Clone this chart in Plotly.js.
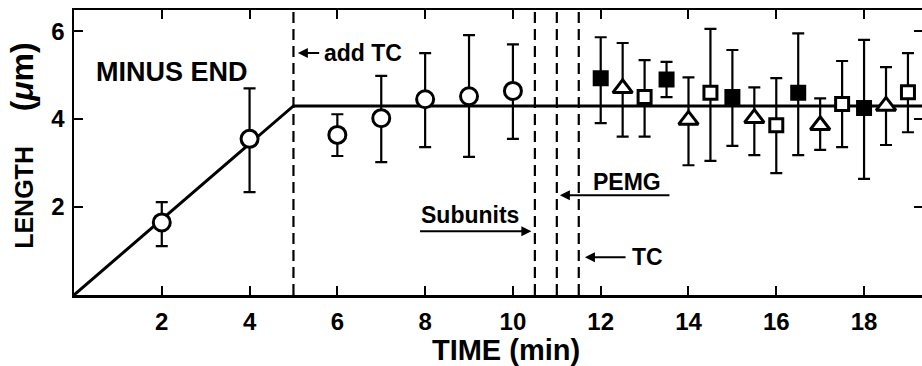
<!DOCTYPE html>
<html>
<head>
<meta charset="utf-8">
<script src="https://cdn.plot.ly/plotly-3.0.1.min.js"></script>
<style>
  html, body { margin: 0; padding: 0; background: #fff; }
  #chart { width: 922px; height: 366px; }
</style>
</head>
<body>
<div id="chart"></div>
<script>
// ---- data ----
const fitX = [0, 5, 19.32];
const fitY = [0, 4.3, 4.3];

const eventTimes = [5, 10.5, 11, 11.5];

const circleX  = [2, 4, 6, 7, 8, 9, 10];
const circleY  = [1.65, 3.55, 3.64, 4.02, 4.45, 4.52, 4.64];
const circleHi = [2.11, 4.70, 4.11, 4.98, 5.50, 5.91, 5.70];
const circleLo = [1.11, 2.34, 3.16, 3.02, 3.36, 3.14, 3.55];

const filledX  = [12, 13.5, 15, 16.5, 18];
const filledY  = [4.93, 4.90, 4.50, 4.60, 4.25];
const filledHi = [5.86, 5.30, 5.57, 5.95, 5.80];
const filledLo = [3.91, 4.50, 3.39, 3.18, 2.64];

const triX  = [12.5, 14, 15.5, 17, 18.5];
const triY  = [4.70, 3.98, 4.02, 3.86, 4.30];
const triHi = [5.73, 4.95, 4.72, 4.47, 5.18];
const triLo = [3.60, 2.95, 3.18, 3.30, 3.41];

const openSqX  = [13, 14.5, 16, 17.5, 19];
const openSqY  = [4.50, 4.60, 3.86, 4.34, 4.61];
const openSqHi = [5.34, 6.05, 4.93, 5.32, 5.50];
const openSqLo = [3.60, 3.05, 2.77, 3.36, 3.70];

const xTicks = [2, 4, 6, 8, 10, 12, 14, 16, 18];
const xTickText = ['2', '4', '6', '8', '10', '12', '14', '16', '18'];
const yTicks = [2, 4, 6];
const yTickText = ['2', '4', '6'];

// ---- helpers ----
function errBars(y, hi, lo) {
  return {
    type: 'data', symmetric: false,
    array: hi.map((h, i) => h - y[i]),
    arrayminus: lo.map((l, i) => y[i] - l),
    color: '#000', thickness: 2.2, width: 6
  };
}
function pointTrace(name, x, y, hi, lo, symbol, fill, size) {
  return {
    type: 'scatter', mode: 'markers', name: name, x: x, y: y,
    error_y: errBars(y, hi, lo),
    marker: { symbol: symbol, size: size, color: fill, line: { color: '#000', width: 3 } },
    cliponaxis: false
  };
}

const FONT = 'Liberation Sans, Arial, Helvetica, sans-serif';

const traces = [
  { type: 'scatter', mode: 'lines', x: fitX, y: fitY, name: 'fit',
    line: { color: '#000', width: 3 } },
  pointTrace('before', circleX, circleY, circleHi, circleLo, 'circle', '#fff', 17),
  pointTrace('filled', filledX, filledY, filledHi, filledLo, 'square', '#000', 13),
  pointTrace('triangle', triX, triY, triHi, triLo, 'triangle-up', '#fff', 17),
  pointTrace('open', openSqX, openSqY, openSqHi, openSqLo, 'square', '#fff', 13),
  // invisible trace to carry the right-hand tick axis
  { type: 'scatter', mode: 'markers', x: [fitX[0]], y: [fitY[0]], yaxis: 'y2',
    marker: { opacity: 0 }, hoverinfo: 'skip', name: 'right' }
];

const shapes = eventTimes.map(t => ({
  type: 'line', xref: 'x', yref: 'paper', x0: t, x1: t, y0: 0, y1: 1,
  line: { color: '#000', width: 2.2, dash: '11px,6px' }
}));

const txt = (text, x, y, size, xanchor) => ({
  text: text, x: x, y: y, xref: 'x', yref: 'y', showarrow: false,
  xanchor: xanchor || 'center', yanchor: 'middle',
  font: { family: FONT, size: size, color: '#000', weight: 'bold' }
});
const arrow = (x, y, ax, ay) => ({
  text: '', x: x, y: y, ax: ax, ay: ay, xref: 'x', yref: 'y', axref: 'x', ayref: 'y',
  showarrow: true, arrowhead: 2, arrowsize: 1, arrowwidth: 2, arrowcolor: '#000', standoff: 0
});

const annotations = [
  txt('MINUS END', 2.23, 5.06, 27),
  arrow(5.1, 5.5, 5.62, 5.5),
  txt('add TC', 5.66, 5.5, 23, 'left'),
  txt('Subunits', 9.02, 1.82, 23),
  arrow(10.42, 1.45, 7.85, 1.45),
  txt('PEMG', 12.6, 2.57, 23),
  arrow(11.07, 2.27, 13.6, 2.27),
  arrow(11.64, 0.86, 12.6, 0.86),
  txt('TC', 12.67, 0.86, 23, 'left')
];

const tickFont = { family: FONT, size: 24, color: '#000', weight: 'bold' };

const layout = {
  width: 922, height: 366,
  margin: { l: 74, r: 0, t: 10, b: 71 },
  paper_bgcolor: '#fff', plot_bgcolor: '#fff',
  showlegend: false,
  font: { family: FONT, color: '#000' },
  xaxis: {
    range: [0, 19.32], showgrid: false, zeroline: false,
    showline: true, linecolor: '#000', linewidth: 2.5, mirror: 'ticks',
    ticks: 'inside', ticklen: 9, tickwidth: 2, tickcolor: '#000',
    tickvals: xTicks, ticktext: xTickText, ticklabelstandoff: 4,
    tickfont: tickFont,
    title: { text: '&nbsp;&nbsp;TIME (min)', standoff: 8,
             font: { family: FONT, size: 29, color: '#000', weight: 'bold' } }
  },
  yaxis: {
    range: [0, 6.48], showgrid: false, zeroline: false,
    showline: true, linecolor: '#000', linewidth: 2.5, mirror: false,
    ticks: 'inside', ticklen: 9, tickwidth: 2, tickcolor: '#000',
    tickvals: yTicks, ticktext: yTickText, ticklabelstandoff: 2,
    tickfont: tickFont,
    title: { text: '&nbsp;&nbsp;LENGTH&nbsp;&nbsp;&nbsp;&nbsp;&nbsp;<span style="font-size:32px">(<i>μ</i>m)</span>', standoff: 11,
             font: { family: FONT, size: 25, color: '#000', weight: 'bold' } }
  },
  yaxis2: {
    overlaying: 'y', side: 'right', range: [0, 6.48],
    showgrid: false, zeroline: false, showline: false,
    ticks: 'inside', ticklen: 8, tickwidth: 2, tickcolor: '#000',
    tickvals: yTicks, showticklabels: false
  },
  shapes: shapes,
  annotations: annotations
};

Plotly.newPlot('chart', traces, layout, { staticPlot: true, displayModeBar: false });
</script>
</body>
</html>
